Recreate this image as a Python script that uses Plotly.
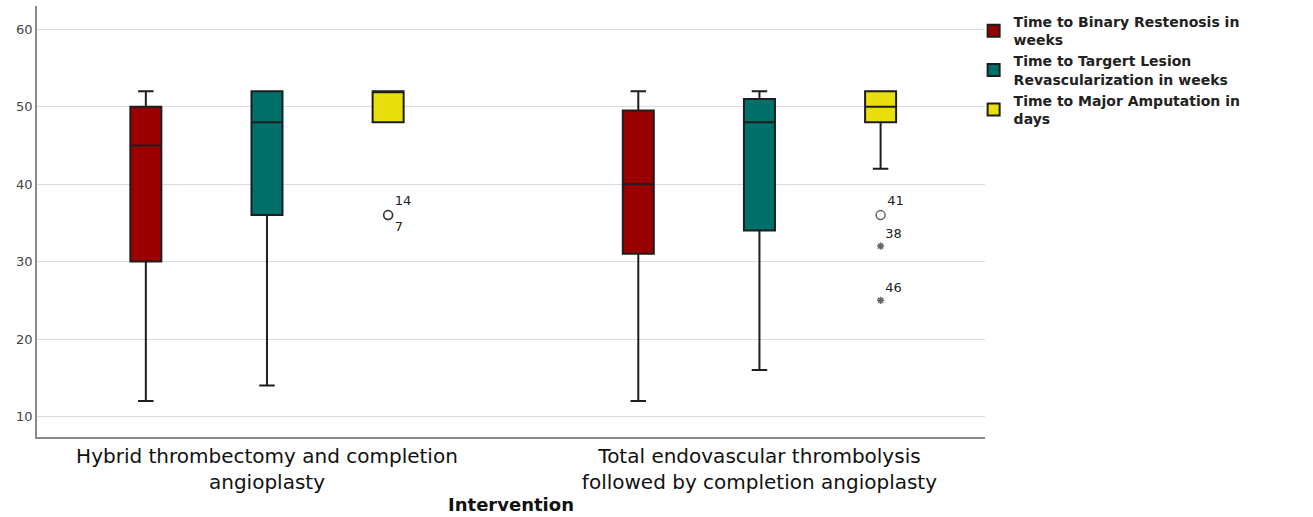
import plotly.graph_objects as go

# ---- data ----
groups = ["Hybrid thrombectomy and completion<br>angioplasty",
          "Total endovascular thrombolysis<br>followed by completion angioplasty"]
series_names = ["Time to Binary Restenosis in<br>weeks",
                "Time to Targert Lesion<br>Revascularization in weeks",
                "Time to Major Amputation in<br>days"]
series_colors = ["#9b0000", "#00706b", "#e9df0a"]

lower_fence = [[12, 12], [14, 16], [48, 42]]
q1_vals = [[30, 31], [36, 34], [48, 48]]
median_vals = [[45, 40], [48, 48], [52, 50]]
q3_vals = [[50, 49.5], [52, 51], [52, 52]]
upper_fence = [[52, 52], [52, 52], [52, 52]]

outlier_group = [groups[0], groups[0], groups[1], groups[1], groups[1]]
outlier_value = [36, 36, 36, 32, 25]
outlier_case = ["14", "7", "41", "38", "46"]
outlier_extreme = [False, False, False, True, True]

y_ticks = [10, 20, 30, 40, 50, 60]

# ---- layout constants ----
BOXGAP = 0.262
BOXGROUPGAP = 0.744
n_series = len(series_names)

fig = go.Figure()
for i in range(n_series):
    fig.add_trace(go.Box(
        x=groups, q1=q1_vals[i], median=median_vals[i], q3=q3_vals[i],
        lowerfence=lower_fence[i], upperfence=upper_fence[i],
        name=series_names[i], offsetgroup=str(i),
        fillcolor=series_colors[i], line=dict(color="#1e1e1e", width=2),
        whiskerwidth=0.5, boxpoints=False, hoverinfo="skip",
    ))

# outliers of the amputation series drawn on an overlay category axis
shift = (1 - BOXGAP) / n_series * (n_series - 1) / 2
symbols = ["asterisk-open" if e else "circle-open" for e in outlier_extreme]
sizes = [6 if e else 9 for e in outlier_extreme]
textpos = ["top right", "bottom right", "top right", "top right", "top right"]
fig.add_trace(go.Scatter(
    x=outlier_group, y=outlier_value, xaxis="x2", mode="markers+text",
    text=outlier_case, textposition=textpos,
    textfont=dict(family="DejaVu Sans", size=13, color="#222"),
    marker=dict(symbol=symbols, size=sizes, color="#222",
                line=dict(color="#222", width=1.5)),
    showlegend=False, hoverinfo="skip",
))

x_range = [-0.467, 1.458]
fig.update_layout(
    width=1313, height=517,
    margin=dict(l=37, r=328, t=6, b=80),
    paper_bgcolor="white", plot_bgcolor="white",
    boxmode="group", boxgap=BOXGAP, boxgroupgap=BOXGROUPGAP,
    font=dict(family="DejaVu Sans", color="#222"),
    xaxis=dict(type="category", categoryarray=groups, range=x_range,
               showgrid=False, showline=True, linecolor="#8a8a8a", linewidth=1.5,
               ticks="", tickfont=dict(family="DejaVu Sans", size=20, color="#111"),
               title=dict(text="<b>Intervention</b>",
                          font=dict(family="DejaVu Sans", size=18, color="#111"),
                          standoff=4),
               zeroline=False),
    xaxis2=dict(type="category", categoryarray=groups, overlaying="x",
                range=[x_range[0] - shift, x_range[1] - shift], visible=False),
    yaxis=dict(range=[7.35, 63.0], tickvals=y_ticks, showgrid=True,
               gridcolor="#dcdcdc", gridwidth=1, showline=True,
               linecolor="#8a8a8a", linewidth=1.5, ticks="",
               tickfont=dict(family="DejaVu Sans", size=13, color="#444"),
               zeroline=False),
    legend=dict(x=0.988, xanchor="left", y=1.0, yanchor="top",
                bgcolor="rgba(0,0,0,0)", tracegroupgap=0,
                font=dict(family="DejaVu Sans", size=14, color="#222",
                          weight="bold")),
    showlegend=True,
)

fig.write_html("out.html")
